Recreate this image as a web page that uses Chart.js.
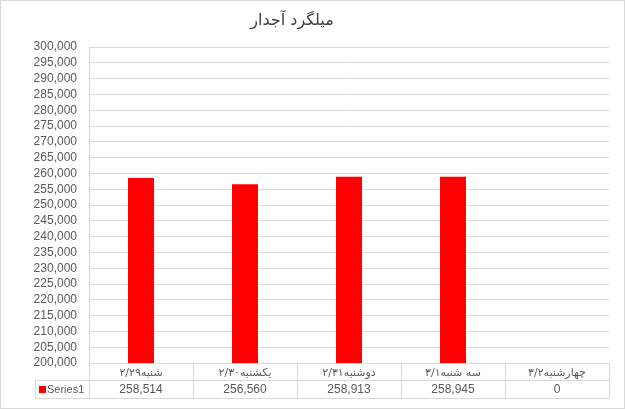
<!DOCTYPE html>
<html>
<head>
<meta charset="utf-8">
<script src="https://cdn.jsdelivr.net/npm/chart.js@4/dist/chart.umd.min.js"></script>
<style>
  html, body { margin: 0; padding: 0; background: #fff; }
  #wrap { width: 625px; height: 409px; }
</style>
</head>
<body>
<div id="wrap"><canvas id="chart" width="625" height="409"></canvas></div>
<script>
// données
const chartTitle = "میلگرد آجدار";
const dayNames = ["شنبه", "یکشنبه", "دوشنبه", "سه شنبه", "چهارشنبه"];
const dayDates = ["۲/۲۹", "۲/۳۰", "۲/۳۱", "۳/۱", "۳/۲"];
const seriesName = "Series1";
const seriesValues = [258514, 256560, 258913, 258945, 0];
const yMin = 200000;
const yMax = 300000;
const yStep = 5000;

// date d'abord : en contexte RTL le nom du jour passe à gauche
const categories = dayNames.map((d, i) => dayDates[i] + d);

const fmt = v => v.toLocaleString("en-US");
const gridColor = "#d9d9d9";
const textColor = "#595959";

// Cadre, titre et table de données sous l'axe
const tablePlugin = {
  id: "dataTable",
  beforeDraw(chart) {
    const ctx = chart.ctx;
    ctx.save();
    ctx.fillStyle = "#fff";
    ctx.fillRect(0, 0, chart.width, chart.height);
    ctx.strokeStyle = gridColor;
    ctx.lineWidth = 1;
    ctx.strokeRect(0.5, 0.5, chart.width - 1, chart.height - 1);
    ctx.restore();
  },
  afterDraw(chart) {
    const ctx = chart.ctx;
    const area = chart.chartArea;
    const x = chart.scales.x;
    const n = categories.length;
    const step = (area.right - area.left) / n;
    const row1 = area.bottom;
    const row2 = row1 + 17;
    const row3 = row2 + 18;
    const labelLeft = 35;

    ctx.save();
    // titre
    ctx.fillStyle = "#404040";
    ctx.font = "16px 'DejaVu Sans', sans-serif";
    ctx.textAlign = "center";
    ctx.textBaseline = "middle";
    ctx.fillText(chartTitle, 292, 21);

    ctx.strokeStyle = gridColor;
    ctx.lineWidth = 1;
    ctx.beginPath();
    ctx.moveTo(labelLeft, row2 + 0.5);
    ctx.lineTo(area.right, row2 + 0.5);
    ctx.moveTo(labelLeft, row3 + 0.5);
    ctx.lineTo(area.right, row3 + 0.5);
    ctx.moveTo(labelLeft + 0.5, row2);
    ctx.lineTo(labelLeft + 0.5, row3);
    for (let i = 0; i <= n; i++) {
      const px = Math.round(area.left + i * step) + 0.5;
      ctx.moveTo(px, i === 0 ? area.top : row1);
      ctx.lineTo(px, row3);
    }
    ctx.stroke();

    // légende dans la table
    ctx.fillStyle = "#ff0000";
    ctx.fillRect(labelLeft + 4, row2 + 6, 7, 7);
    ctx.fillStyle = textColor;
    ctx.font = "11px 'Liberation Sans', sans-serif";
    ctx.textAlign = "left";
    ctx.fillText(seriesName, labelLeft + 12, (row2 + row3) / 2 + 1);

    ctx.font = "12px 'Liberation Sans', sans-serif";
    ctx.textAlign = "center";
    seriesValues.forEach((v, i) => {
      ctx.fillText(fmt(v), x.getPixelForValue(i), (row2 + row3) / 2 + 1);
    });
    ctx.restore();
  }
};

new Chart(document.getElementById("chart"), {
  type: "bar",
  data: {
    labels: categories,
    datasets: [{
      label: seriesName,
      data: seriesValues,
      backgroundColor: "#ff0000",
      borderWidth: 0,
      barPercentage: 0.5,
      categoryPercentage: 0.5
    }]
  },
  options: {
    responsive: false,
    animation: false,
    layout: { padding: { top: 47, right: 16, bottom: 0, left: 0 } },
    plugins: {
      legend: { display: false },
      title: { display: false },
      tooltip: { enabled: false }
    },
    scales: {
      x: {
        afterFit: s => { s.height = 46; },
        grid: { display: false, drawTicks: false },
        border: { display: true, color: gridColor },
        ticks: {
          padding: 4,
          color: textColor,
          font: { size: 11, family: "'DejaVu Sans', sans-serif" },
          maxRotation: 0,
          autoSkip: false
        }
      },
      y: {
        min: yMin,
        max: yMax,
        afterFit: s => { s.width = 89; },
        grid: { color: gridColor, drawTicks: false },
        border: { display: true, color: gridColor },
        ticks: {
          stepSize: yStep,
          autoSkip: false,
          padding: 12,
          color: textColor,
          font: { size: 12, family: "'Liberation Sans', sans-serif" },
          callback: v => fmt(v)
        }
      }
    }
  },
  plugins: [tablePlugin]
});
</script>
</body>
</html>
